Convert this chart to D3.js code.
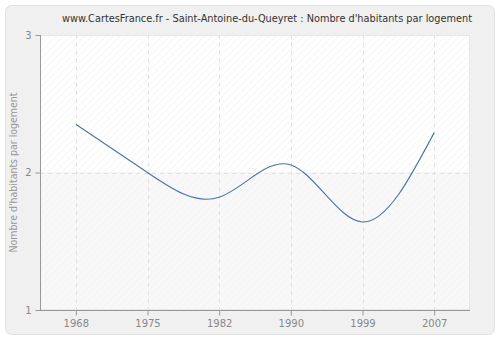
<!DOCTYPE html>
<html><head><meta charset="utf-8">
<script src="https://cdn.jsdelivr.net/npm/d3@7"></script>
<style>body{margin:0;background:#fff}svg{display:block}</style>
</head><body>
<svg id="c" width="500" height="340"></svg>
<script>
const years = ["1968","1975","1982","1990","1999","2007"];
const values = [2.35, 2.0, 1.82, 2.055, 1.64, 2.29];
const yTicks = [1, 2, 3];
const title = "www.CartesFrance.fr - Saint-Antoine-du-Queyret : Nombre d'habitants par logement";
const yLabel = "Nombre d'habitants par logement";

const svg = d3.select("#c");
const defs = svg.append("defs");
const pat = defs.append("pattern").attr("id","hatch").attr("patternUnits","userSpaceOnUse")
  .attr("width",5).attr("height",5).attr("patternTransform","rotate(45)");
pat.append("rect").attr("width",5).attr("height",5).attr("fill","#ffffff");
pat.append("line").attr("x1",0).attr("y1",0).attr("x2",0).attr("y2",5).attr("stroke","#f0f0f0").attr("stroke-width",1.2);
const pat2 = defs.append("pattern").attr("id","hatch2").attr("patternUnits","userSpaceOnUse")
  .attr("width",5).attr("height",5).attr("patternTransform","rotate(45)");
pat2.append("rect").attr("width",5).attr("height",5).attr("fill","#f8f8f8");
pat2.append("line").attr("x1",0).attr("y1",0).attr("x2",0).attr("y2",5).attr("stroke","#f2f2f2").attr("stroke-width",1.2);

svg.append("rect").attr("x",5.5).attr("y",5.5).attr("width",489).attr("height",329)
  .attr("rx",6).attr("fill","#f0f0f0").attr("stroke","#e2e2e2");

const L=40, R=470, T=35, B=310;
const x = d3.scalePoint().domain(years).range([L,R]).padding(0.5);
const y = d3.scaleLinear().domain([1,3]).range([B,T]);

svg.append("rect").attr("x",L).attr("y",T).attr("width",R-L).attr("height",y(2)-T).attr("fill","url(#hatch)");
svg.append("rect").attr("x",L).attr("y",y(2)).attr("width",R-L).attr("height",B-y(2)).attr("fill","url(#hatch2)");
svg.append("rect").attr("x",L+0.5).attr("y",T+0.5).attr("width",R-L-1).attr("height",B-T-1)
  .attr("fill","none").attr("stroke","#e6e6e6");

// grid
svg.append("g").selectAll("line").data(years).join("line")
  .attr("x1",d=>Math.round(x(d))+0.5).attr("x2",d=>Math.round(x(d))+0.5)
  .attr("y1",T).attr("y2",B).attr("stroke","#e2e2e2").attr("stroke-dasharray","4,4");
svg.append("g").selectAll("line").data([2]).join("line")
  .attr("x1",L).attr("x2",R).attr("y1",d=>Math.round(y(d))+0.5).attr("y2",d=>Math.round(y(d))+0.5)
  .attr("stroke","#e2e2e2").attr("stroke-dasharray","4,4");

// axes
const yAxis = svg.append("g").attr("transform",`translate(${L+0.5},0)`)
  .call(d3.axisLeft(y).tickValues(yTicks).tickFormat(d3.format("d")).tickSize(5).tickPadding(4));
const xAxis = svg.append("g").attr("transform",`translate(0,${B+0.5})`)
  .call(d3.axisBottom(x).tickSize(5).tickPadding(4));
[xAxis,yAxis].forEach(g=>{
  g.select(".domain").attr("stroke","#999");
  g.selectAll(".tick line").attr("stroke","#999");
  g.selectAll(".tick text").attr("fill","#888").style("font-family","DejaVu Sans, Verdana, sans-serif").style("font-size","10px");
});
xAxis.select(".domain").attr("d",`M${L},0H${R}`);
yAxis.select(".domain").attr("d",`M0,${B}V${T}`);

// line
const line = d3.line().x((d,i)=>x(years[i])).y(d=>y(d)).curve(d3.curveNatural);
svg.append("path").datum(values).attr("d",line).attr("fill","none")
  .attr("stroke","#4a74a6").attr("stroke-width",1.1);

// title
svg.append("text").attr("x",267).attr("y",22).attr("text-anchor","middle")
  .attr("fill","#333").style("font-family","DejaVu Sans, Verdana, sans-serif").style("font-size","10px")
  .attr("textLength",410).attr("lengthAdjust","spacingAndGlyphs").text(title);
svg.append("text").attr("transform",`translate(17,${(T+B)/2}) rotate(-90)`).attr("text-anchor","middle")
  .attr("fill","#999").style("font-family","DejaVu Sans, Verdana, sans-serif").style("font-size","10px")
  .attr("textLength",160).attr("lengthAdjust","spacingAndGlyphs").text(yLabel);
</script>
</body></html>
